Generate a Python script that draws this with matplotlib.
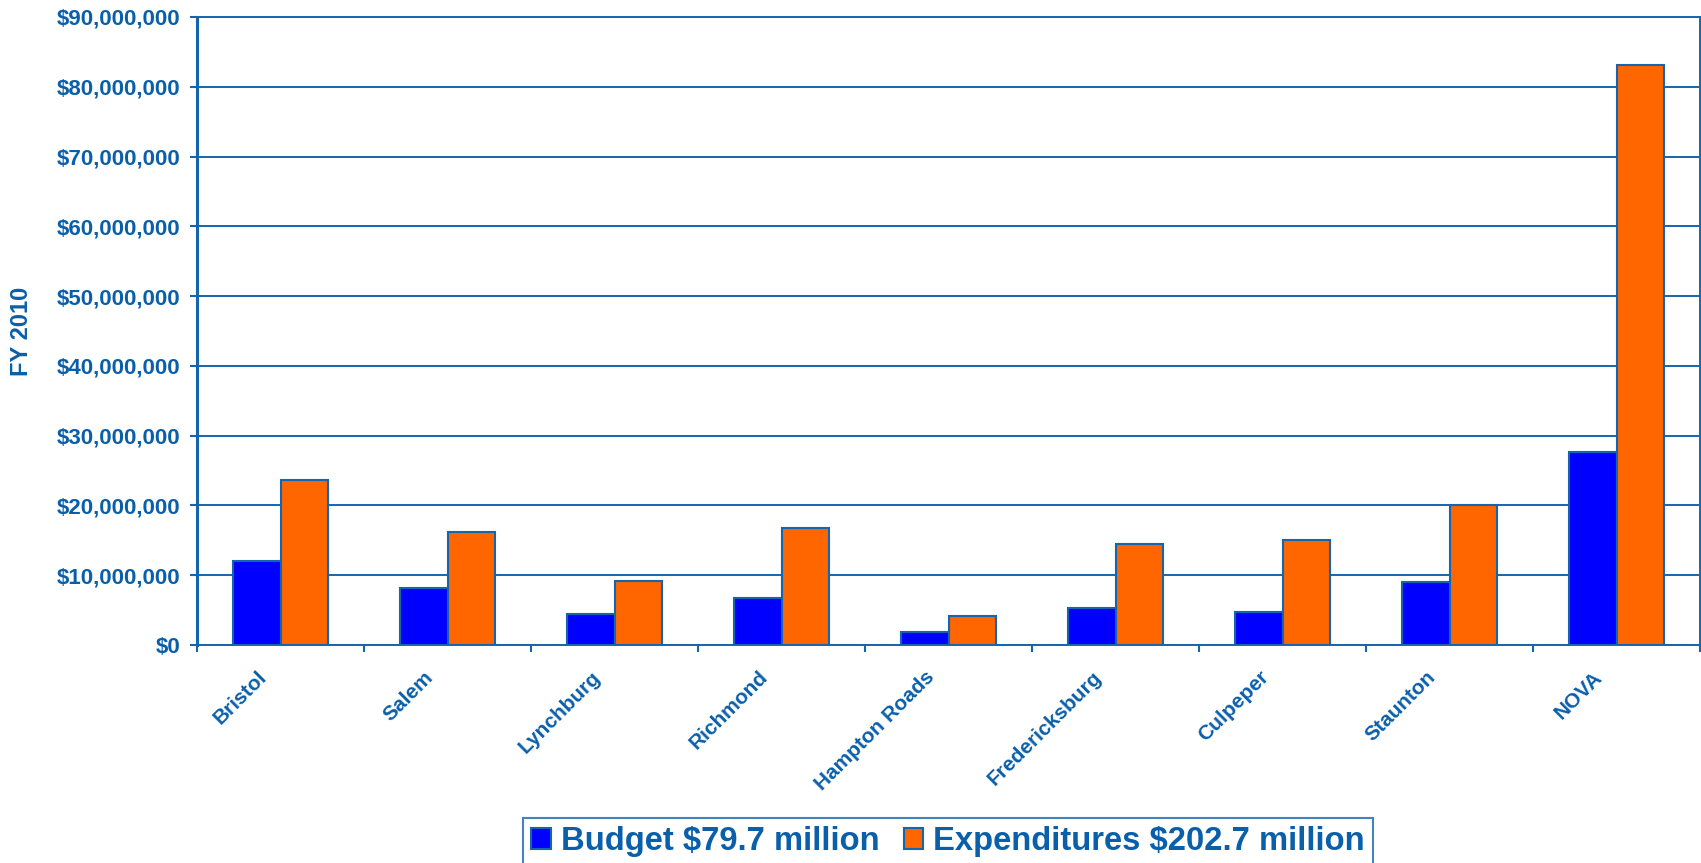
import numpy as np
import matplotlib.pyplot as plt
import matplotlib.transforms as mtransforms
from matplotlib.ticker import FuncFormatter

# valores (FY 2010)
regioes = ["Bristol", "Salem", "Lynchburg", "Richmond", "Hampton Roads",
           "Fredericksburg", "Culpeper", "Staunton", "NOVA"]
budget = [12.1e6, 8.15e6, 4.5e6, 6.8e6, 1.85e6, 5.3e6, 4.7e6, 9.0e6, 27.6e6]
expend = [23.7e6, 16.2e6, 9.2e6, 16.8e6, 4.2e6, 14.5e6, 15.0e6, 20.0e6, 83.1e6]
leg_budget = "Budget $79.7 million"
leg_expend = "Expenditures $202.7 million"

azul_txt = "#0A5FAA"
azul_linha = "#1565AE"

plt.rcParams['font.family'] = ['Liberation Sans', 'DejaVu Sans']
plt.rcParams['font.weight'] = 'bold'

fig = plt.figure(figsize=(17.01, 8.63), dpi=100)
ax = fig.add_axes([197/1701, 1 - 645/863, 1503/1701, 628/863])

x = np.arange(len(regioes))
w = 0.285
b1 = ax.bar(x - w/2, budget, w, color="#0000FF", edgecolor=azul_linha, linewidth=1.5,
            label=leg_budget, zorder=3)
b2 = ax.bar(x + w/2, expend, w, color="#FF6600", edgecolor=azul_linha, linewidth=1.5,
            label=leg_expend, zorder=3)

ax.set_xlim(-0.5, len(regioes) - 0.5)
ax.set_ylim(0, 90e6)
ax.set_yticks(np.arange(0, 90e6 + 1, 10e6))
ax.yaxis.set_major_formatter(FuncFormatter(lambda v, p: "${:,.0f}".format(v)))
ax.grid(axis='y', color=azul_linha, linewidth=1.4, zorder=0)

# rotulos no centro, tracinhos nas divisas
ax.set_xticks(x)
ax.set_xticklabels(regioes, rotation=45, ha='right', va='center', rotation_mode='anchor')
ax.set_xticks(np.arange(-0.5, len(regioes)), minor=True)
ax.tick_params(axis='x', which='major', length=0, pad=21, labelsize=15, labelcolor=azul_txt)
ax.tick_params(axis='x', which='minor', length=5, width=1.5, color=azul_linha)
ax.tick_params(axis='y', length=5, width=1.5, color=azul_linha, pad=7,
               labelsize=16, labelcolor=azul_txt)
offset = mtransforms.ScaledTranslation(-17/100, 0, fig.dpi_scale_trans)
for lab in ax.get_xticklabels():
    lab.set_transform(lab.get_transform() + offset)
    lab.set_fontweight('bold')
for lab in ax.get_yticklabels():
    lab.set_fontweight('bold')

for s in ax.spines.values():
    s.set_color(azul_linha)
    s.set_linewidth(1.4)
ax.spines['left'].set_linewidth(2.2)

ax.set_ylabel("FY 2010", fontsize=17, fontweight='bold', color=azul_txt)
ax.yaxis.set_label_coords(-0.109, 0.5)

leg = fig.legend(handles=[b1, b2], loc='upper center', bbox_to_anchor=(948/1701, 1 - 818/863),
                 ncol=2, fontsize=23.6, frameon=True, fancybox=False, handlelength=0.6,
                 handleheight=0.6, handletextpad=0.3, columnspacing=0.75, borderpad=0.25,
                 borderaxespad=0)
leg.get_frame().set_edgecolor(azul_linha)
leg.get_frame().set_linewidth(1.5)
for t in leg.get_texts():
    t.set_color(azul_txt)
    t.set_fontweight('bold')

fig.savefig("out.png", dpi=100)
